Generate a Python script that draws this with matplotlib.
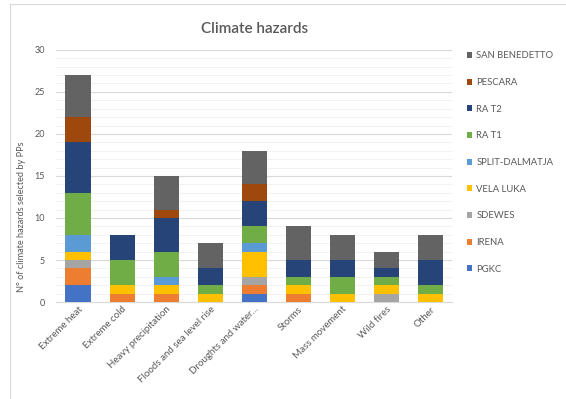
import matplotlib.pyplot as plt
from matplotlib.patches import Rectangle
import numpy as np

plt.rcParams['font.family'] = ['Lato', 'DejaVu Sans']

# Hazard categories and the number of times each partner selected them
hazards = ["Extreme heat", "Extreme cold", "Heavy precipitation",
           "Floods and sea level rise", "Droughts and water...", "Storms",
           "Mass movement", "Wild fires", "Other"]

partners = ["PGKC", "IRENA", "SDEWES", "VELA LUKA", "SPLIT-DALMATJA",
            "RA T1", "RA T2", "PESCARA", "SAN BENEDETTO"]

pgkc          = [2, 0, 0, 0, 1, 0, 0, 0, 0]
irena         = [2, 1, 1, 0, 1, 1, 0, 0, 0]
sdewes        = [1, 0, 0, 0, 1, 0, 0, 1, 0]
vela_luka     = [1, 1, 1, 1, 3, 1, 1, 1, 1]
split_dalm    = [2, 0, 1, 0, 1, 0, 0, 0, 0]
ra_t1         = [5, 3, 3, 1, 2, 1, 2, 1, 1]
ra_t2         = [6, 3, 4, 2, 3, 2, 2, 1, 3]
pescara       = [3, 0, 1, 0, 2, 0, 0, 0, 0]
san_benedetto = [5, 0, 4, 3, 4, 4, 3, 2, 3]

series = [pgkc, irena, sdewes, vela_luka, split_dalm,
          ra_t1, ra_t2, pescara, san_benedetto]
colors = ["#4472C4", "#ED7D31", "#A5A5A5", "#FFC000", "#5B9BD5",
          "#70AD47", "#264478", "#9E480E", "#636363"]

fig = plt.figure(figsize=(5.66, 3.99), dpi=100)
ax = fig.add_axes([0.099, 0.243, 0.700, 0.632])

# thin frame around the chart area
fig.patches.append(Rectangle((10 / 566, -0.05), 1.2, 1 - 4 / 399 + 0.05,
                             transform=fig.transFigure, fill=False,
                             edgecolor="#D9D9D9", linewidth=0.8))

x = np.arange(len(hazards))
bottom = np.zeros(len(hazards))
handles = []
for name, vals, col in zip(partners, series, colors):
    b = ax.bar(x, vals, width=0.57, bottom=bottom, color=col, label=name, zorder=3)
    handles.append(b)
    bottom += np.array(vals)

ax.set_xlim(-0.5, len(hazards) - 0.5)
ax.set_ylim(0, 30)
ax.set_yticks(range(0, 31, 5))
ax.set_yticks(range(0, 31, 1), minor=True)
ax.grid(axis="y", which="major", color="#D9D9D9", linewidth=0.8, zorder=0)
ax.grid(axis="y", which="minor", color="#F0F0F0", linewidth=0.6, zorder=0)
ax.tick_params(axis="y", which="both", length=0, labelsize=6.5,
               labelcolor="#595959", pad=8)
ax.tick_params(axis="x", length=0, labelsize=7, labelcolor="#595959", pad=2)
ax.set_xticks(x)
ax.set_xticklabels(hazards, rotation=45, ha="right", rotation_mode="anchor")
for s in ["top", "right", "left"]:
    ax.spines[s].set_visible(False)
ax.spines["bottom"].set_color("#D9D9D9")

ax.set_ylabel("N° of climate hazards selected by PPs", fontsize=6.6,
              color="#595959")
ax.yaxis.set_label_coords(-0.075, 0.34)
fig.text(0.45, 0.928, "Climate hazards", ha="center", va="center",
         fontsize=11, color="#595959", fontweight="semibold")

fig.legend(handles[::-1], partners[::-1], loc="upper left",
           bbox_to_anchor=(0.818, 0.881), frameon=False, fontsize=6.8,
           labelcolor="#595959", handlelength=0.6, handleheight=0.6,
           handletextpad=0.4, labelspacing=1.87, borderaxespad=0)

fig.savefig("out.png", dpi=100)
